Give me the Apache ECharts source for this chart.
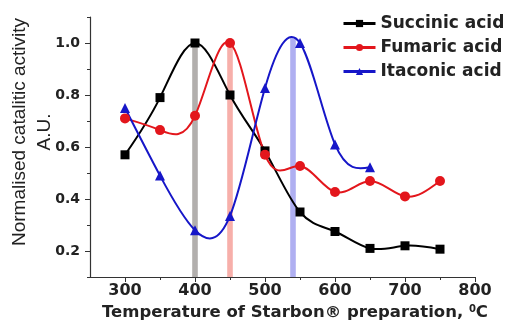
<!DOCTYPE html>
<html>
<head>
<meta charset="utf-8">
<script src="https://cdn.jsdelivr.net/npm/echarts@6/dist/echarts.min.js"></script>
<style>html,body{margin:0;padding:0;background:#fff}#c{width:505px;height:322px}</style>
</head>
<body>
<div id="c"></div>
<script>
var temps = [300, 350, 400, 450, 500, 550, 600, 650, 700, 750];
var succinic = [0.57, 0.79, 1.0, 0.80, 0.585, 0.35, 0.275, 0.21, 0.22, 0.207];
var fumaric = [0.71, 0.665, 0.72, 1.0, 0.57, 0.527, 0.427, 0.469, 0.41, 0.469];
var itaconicTemps = [300, 350, 400, 450, 500, 550, 600, 650];
var itaconic = [0.75, 0.49, 0.28, 0.335, 0.827, 1.0, 0.61, 0.522];
var seriesNames = ['Succinic acid', 'Fumaric acid', 'Itaconic acid'];
var xMajorTicks = [300, 400, 500, 600, 700, 800];
var xMinorTicks = [350, 450, 550, 650, 750];
var yMajorTicks = [0.2, 0.4, 0.6, 0.8, 1.0];
var yMinorTicks = [0.1, 0.3, 0.5, 0.7, 0.9, 1.1];
var bandLeft = [396, 446, 536];
var bandRight = [404, 454, 544];
var bandTop = [1.0, 1.0, 1.02];
var bandColors = ['rgba(115,110,105,0.55)', 'rgba(240,110,100,0.55)', 'rgba(110,110,230,0.55)'];
var colors = ['#000000', '#e3161c', '#1616c8'];

function pairs(xs, ys) { return xs.map(function (x, i) { return [x, ys[i]]; }); }

// natural cubic spline -> per-segment cubic bezier control points (in data space)
function splineSegments(xs, ys) {
  var n = xs.length, h = [], i;
  for (i = 0; i < n - 1; i++) h.push(xs[i + 1] - xs[i]);
  var M = new Array(n).fill(0);
  if (n > 2) {
    var a = [], b = [], c = [], d = [];
    for (i = 1; i < n - 1; i++) {
      a.push(h[i - 1]); b.push(2 * (h[i - 1] + h[i])); c.push(h[i]);
      d.push(6 * ((ys[i + 1] - ys[i]) / h[i] - (ys[i] - ys[i - 1]) / h[i - 1]));
    }
    var m = b.length;
    for (i = 1; i < m; i++) {
      var w = a[i] / b[i - 1];
      b[i] -= w * c[i - 1]; d[i] -= w * d[i - 1];
    }
    var sol = new Array(m);
    sol[m - 1] = d[m - 1] / b[m - 1];
    for (i = m - 2; i >= 0; i--) sol[i] = (d[i] - c[i] * sol[i + 1]) / b[i];
    for (i = 0; i < m; i++) M[i + 1] = sol[i];
  }
  var segs = [];
  for (i = 0; i < n - 1; i++) {
    var s = (ys[i + 1] - ys[i]) / h[i];
    var dL = s - h[i] * (2 * M[i] + M[i + 1]) / 6;
    var dR = s + h[i] * (M[i] + 2 * M[i + 1]) / 6;
    segs.push([[xs[i], ys[i]], [xs[i] + h[i] / 3, ys[i] + dL * h[i] / 3],
               [xs[i + 1] - h[i] / 3, ys[i + 1] - dR * h[i] / 3], [xs[i + 1], ys[i + 1]]]);
  }
  return segs;
}

function curveSeries(xs, ys, color) {
  var segs = splineSegments(xs, ys);
  return {
    type: 'custom', z: 2, silent: true, clip: true,
    data: segs.map(function (s, i) { return [s[0][0], s[0][1]]; }),
    encode: { x: 0, y: 1 },
    renderItem: function (params, api) {
      var s = segs[params.dataIndex];
      var p0 = api.coord(s[0]), p1 = api.coord(s[1]), p2 = api.coord(s[2]), p3 = api.coord(s[3]);
      return {
        type: 'bezierCurve',
        shape: { x1: p0[0], y1: p0[1], cpx1: p1[0], cpy1: p1[1], cpx2: p2[0], cpy2: p2[1], x2: p3[0], y2: p3[1] },
        style: { stroke: color, lineWidth: 2, fill: null }
      };
    }
  };
}

function markerSeries(name, xs, ys, symbol, size, color) {
  return {
    type: 'line', name: name, data: pairs(xs, ys), z: 3,
    symbol: symbol, symbolSize: size, showSymbol: true,
    lineStyle: { color: color, width: 0, opacity: 0 }, itemStyle: { color: color }
  };
}

var chart = echarts.init(document.getElementById('c'), null, { renderer: 'canvas' });
var labelFont = 'DejaVu Sans';
var option = {
  animation: false,
  backgroundColor: '#fff',
  grid: { left: 90, right: 30, top: 17, bottom: 45 },
  legend: {
    left: 342, top: 15, orient: 'vertical', padding: 0,
    itemWidth: 32, itemHeight: 9, itemGap: 7,
    textStyle: { fontFamily: labelFont, fontWeight: 'bold', fontSize: 17, color: '#222' },
    data: seriesNames.map(function (n, i) {
      return { name: n, lineStyle: { color: colors[i], width: 3, opacity: 1 } };
    })
  },
  xAxis: [{
    type: 'value', min: 250, max: 800, interval: 50,
    axisLine: { lineStyle: { color: '#333', width: 1.2 } },
    axisTick: { length: 5, customValues: xMajorTicks, lineStyle: { color: '#333' } },
    axisLabel: { customValues: xMajorTicks, margin: 6, fontFamily: labelFont, fontWeight: 'bold', fontSize: 16, color: '#222' },
    splitLine: { show: false }
  }, {
    type: 'value', min: 250, max: 800, interval: 50, position: 'bottom',
    axisLine: { show: false },
    axisTick: { length: 3, customValues: xMinorTicks, lineStyle: { color: '#333' } },
    axisLabel: { show: false },
    splitLine: { show: false }
  }],
  yAxis: [{
    type: 'value', min: 0.1, max: 1.1, interval: 0.1,
    axisLine: { show: true, lineStyle: { color: '#333', width: 1.2 } },
    axisTick: { show: true, length: 5, customValues: yMajorTicks, lineStyle: { color: '#333' } },
    axisLabel: { customValues: yMajorTicks, margin: 10, fontFamily: labelFont, fontWeight: 'bold', fontSize: 14, color: '#222',
      formatter: function (v) { return v.toFixed(1); } },
    splitLine: { show: false }
  }, {
    type: 'value', min: 0.1, max: 1.1, interval: 0.1, position: 'left',
    axisLine: { show: false },
    axisTick: { show: true, length: 3, customValues: yMinorTicks, lineStyle: { color: '#333' } },
    axisLabel: { show: false },
    splitLine: { show: false }
  }],
  graphic: [{
    type: 'text', x: 32, y: 132, rotation: Math.PI / 2,
    style: { text: 'Normalised catalitic activity\nA.U.', fontFamily: 'Liberation Sans, Arial', fontSize: 19,
      lineHeight: 25, align: 'center', verticalAlign: 'middle', fill: '#222' }
  }, {
    type: 'text', x: 295, y: 313,
    style: { text: 'Temperature of Starbon\u00ae preparation, {s|0}C', fontFamily: labelFont, fontWeight: 'bold', fontSize: 16.5,
      align: 'center', verticalAlign: 'middle', fill: '#222',
      rich: { s: { fontFamily: labelFont, fontWeight: 'bold', fontSize: 10, verticalAlign: 'top', padding: [0, 0, 8, 0], fill: '#222' } } }
  }],
  series: [{
    type: 'line', name: 'bands', data: [], silent: true, z: 1,
    markArea: {
      silent: true,
      data: bandLeft.map(function (l, i) {
        return [{ coord: [l, 0.1], itemStyle: { color: bandColors[i] } }, { coord: [bandRight[i], bandTop[i]] }];
      })
    }
  },
    curveSeries(temps, succinic, colors[0]),
    curveSeries(temps, fumaric, colors[1]),
    curveSeries(itaconicTemps, itaconic, colors[2]),
    markerSeries(seriesNames[0], temps, succinic, 'rect', 9, colors[0]),
    markerSeries(seriesNames[1], temps, fumaric, 'circle', 10, colors[1]),
    markerSeries(seriesNames[2], itaconicTemps, itaconic, 'triangle', 10, colors[2])
  ]
};
chart.setOption(option);
</script>
</body>
</html>
